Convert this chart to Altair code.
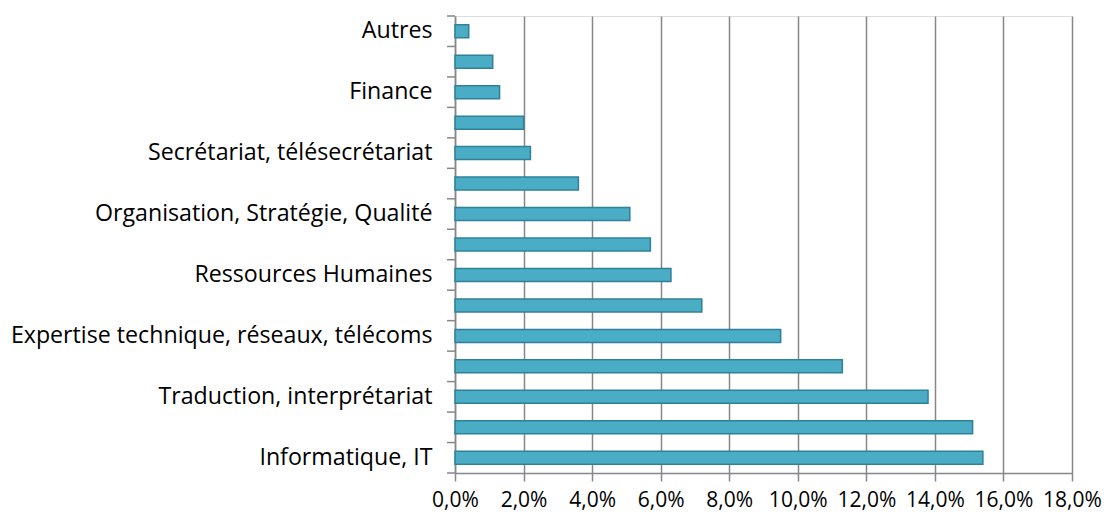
import altair as alt
import pandas as pd

categories = [
    "Autres",
    "Catégorie 2",
    "Finance",
    "Catégorie 4",
    "Secrétariat, télésecrétariat",
    "Catégorie 6",
    "Organisation, Stratégie, Qualité",
    "Catégorie 8",
    "Ressources Humaines",
    "Catégorie 10",
    "Expertise technique, réseaux, télécoms",
    "Catégorie 12",
    "Traduction, interprétariat",
    "Catégorie 14",
    "Informatique, IT",
]
values = [0.4, 1.1, 1.3, 2.0, 2.2, 3.6, 5.1, 5.7, 6.3, 7.2, 9.5, 11.3, 13.8, 15.1, 15.4]
shown_labels = [c for i, c in enumerate(categories) if i % 2 == 0]
x_ticks = [0, 2, 4, 6, 8, 10, 12, 14, 16, 18]

df = pd.DataFrame({"cat": categories, "val": values})
last_df = pd.DataFrame({"cat": [categories[-1]]})

FONT = "Open Sans"
FS = 23.2
label_expr = "indexof(" + str(shown_labels).replace("'", '"') + ", datum.label) >= 0 ? datum.label : ''"

yscale = alt.Scale(domain=categories, paddingInner=0, paddingOuter=0)

bars = alt.Chart(df).mark_bar(
    size=13, fill="#4BACC6", stroke="#2F8198", strokeWidth=1.5
).encode(
    x=alt.X(
        "val:Q",
        scale=alt.Scale(domain=[0, 18], nice=False),
        axis=alt.Axis(
            values=x_ticks,
            labelExpr="replace(format(datum.value, '.1f'), '.', ',') + '%'",
            title=None,
            grid=True,
            gridColor="#878787",
            gridWidth=1.5,
            domainColor="#878787",
            domainWidth=1.5,
            tickColor="#878787",
            tickWidth=1.5,
            tickSize=8,
            labelPadding=8,
            labelFont=FONT,
            labelFontSize=21,
            labelColor="#000000",
            labelOverlap=False,
            labelBound=False,
            labelFlush=False,
        ),
    ),
    y=alt.Y(
        "cat:N",
        sort=None,
        scale=yscale,
        axis=alt.Axis(
            title=None,
            ticks=False,
            labelExpr=label_expr,
            labelPadding=23,
            labelFont=FONT,
            labelFontSize=FS,
            labelColor="#000000",
            domainColor="#878787",
            domainWidth=1.5,
            grid=False,
            labelLimit=600,
            labelOverlap=False,
        ),
    ),
)

ticks_top = alt.Chart(df).mark_rule(color="#878787", strokeWidth=1.5).encode(
    y=alt.Y("cat:N", sort=None, scale=yscale, bandPosition=0),
    x=alt.value(-8),
    x2=alt.value(0),
)
ticks_bottom = alt.Chart(last_df).mark_rule(color="#878787", strokeWidth=1.5).encode(
    y=alt.Y("cat:N", sort=None, scale=yscale, bandPosition=1),
    x=alt.value(-8),
    x2=alt.value(0),
)

chart = alt.layer(bars, ticks_top, ticks_bottom).properties(
    width=617,
    height=457,
    autosize="none",
    padding={"left": 447, "top": 8, "right": 30, "bottom": 40},
).configure_view(fill="#E8EFF3", stroke=None).configure(background="#FFFFFF")

chart.save("out.html", embed_options={"renderer": "svg", "actions": False})
